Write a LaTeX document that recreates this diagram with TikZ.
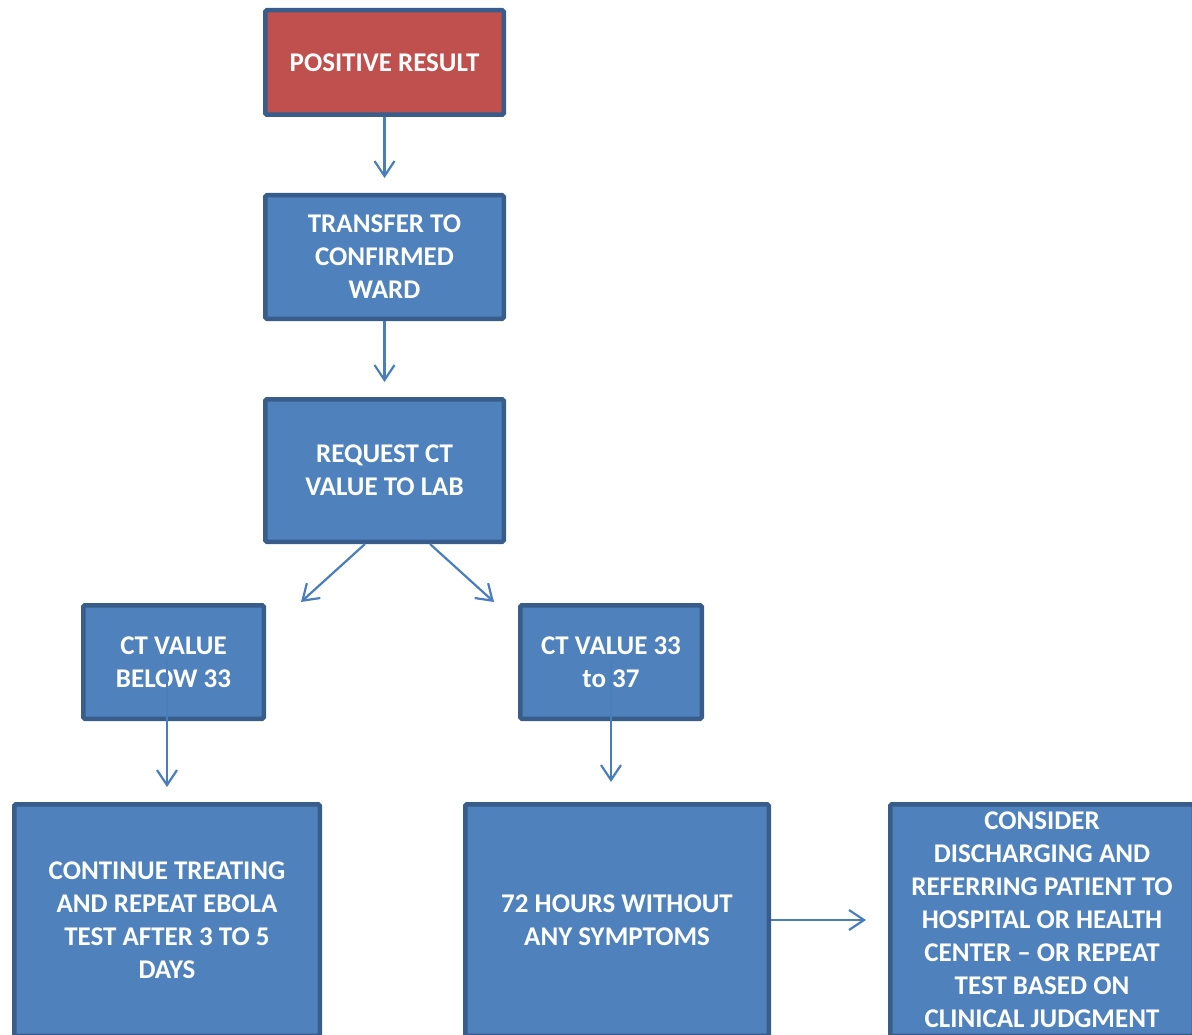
\documentclass[tikz,border=0pt]{standalone}
\usepackage{fontspec}
\setmainfont{Carlito}
\usetikzlibrary{arrows.meta}
\usetikzlibrary{positioning}
\definecolor{boxblue}{HTML}{4F81BD}
\definecolor{boxred}{HTML}{C0504D}
\definecolor{edgeblue}{HTML}{385D8A}
\definecolor{arrowblue}{HTML}{4A7EBB}

\begin{document}
\begin{tikzpicture}
    [
    x=1pt, y=-1pt,
    box/.style={draw=edgeblue,line width=4.5pt,fill=boxblue,rounded corners=1.5pt,text=white,
      font=\bfseries\fontsize{27}{33}\selectfont,align=center,inner sep=0pt},
    redbox/.style={box,fill=boxred},
    arr/.style={draw=arrowblue,line width=2.2pt,-{Straight Barb[length=15pt,width=20pt]}},
    ]
    \clip (0,0) rectangle (1192,1035);

    \node (pos) at (384.5,62.5) [redbox,minimum width=238.5,minimum height=104.5] {POSITIVE RESULT};
    \node (ward) [box,below=76pt of pos,minimum width=238.5,minimum height=123.5] {TRANSFER TO\\CONFIRMED\\WARD};
    \node (lab) [box,below=76pt of ward,minimum width=238.5,minimum height=142.5] {REQUEST CT\\VALUE TO LAB};

    \node (low) at (173.5,662) [box,minimum width=180.5,minimum height=113.5] {CT VALUE\\BELOW 33};
    \node (mid) at (611,662) [box,minimum width=181.5,minimum height=113.5] {CT VALUE 33\\to 37};

    \node (treat) at (167,920) [box,minimum width=305.5,minimum height=231.5] {CONTINUE TREATING\\AND REPEAT EBOLA\\TEST AFTER 3 TO 5\\DAYS};
    \node (hours) at (617,920) [box,minimum width=303.5,minimum height=231.5] {72 HOURS WITHOUT\\ANY SYMPTOMS};
    \node (refer) at (1042,920) [box,minimum width=303.5,minimum height=231.5] {CONSIDER\\DISCHARGING AND\\REFERRING PATIENT TO\\HOSPITAL OR HEALTH\\CENTER -- OR REPEAT\\TEST BASED ON\\CLINICAL JUDGMENT};

    \coordinate (tipmid) at ([yshift=20pt]hours.north);

    \draw [arr] (pos) to ([yshift=15pt]ward.north);
    \draw [arr] (ward) to ([yshift=15pt]lab.north);
    \draw [arr] ([xshift=-19.5pt]lab.south) to ([xshift=35pt,yshift=1pt]low.north east);
    \draw [arr] ([xshift=45.5pt]lab.south) to ([xshift=-24pt,yshift=1pt]mid.north west);
    \draw [arr] (low.center -| treat.north) to ([yshift=15pt]treat.north);
    \draw [arr] (mid.center) to (mid.center |- tipmid);
    \draw [arr] (hours) to ([xshift=-22pt]refer.west);
  \end{tikzpicture}
\end{document}
